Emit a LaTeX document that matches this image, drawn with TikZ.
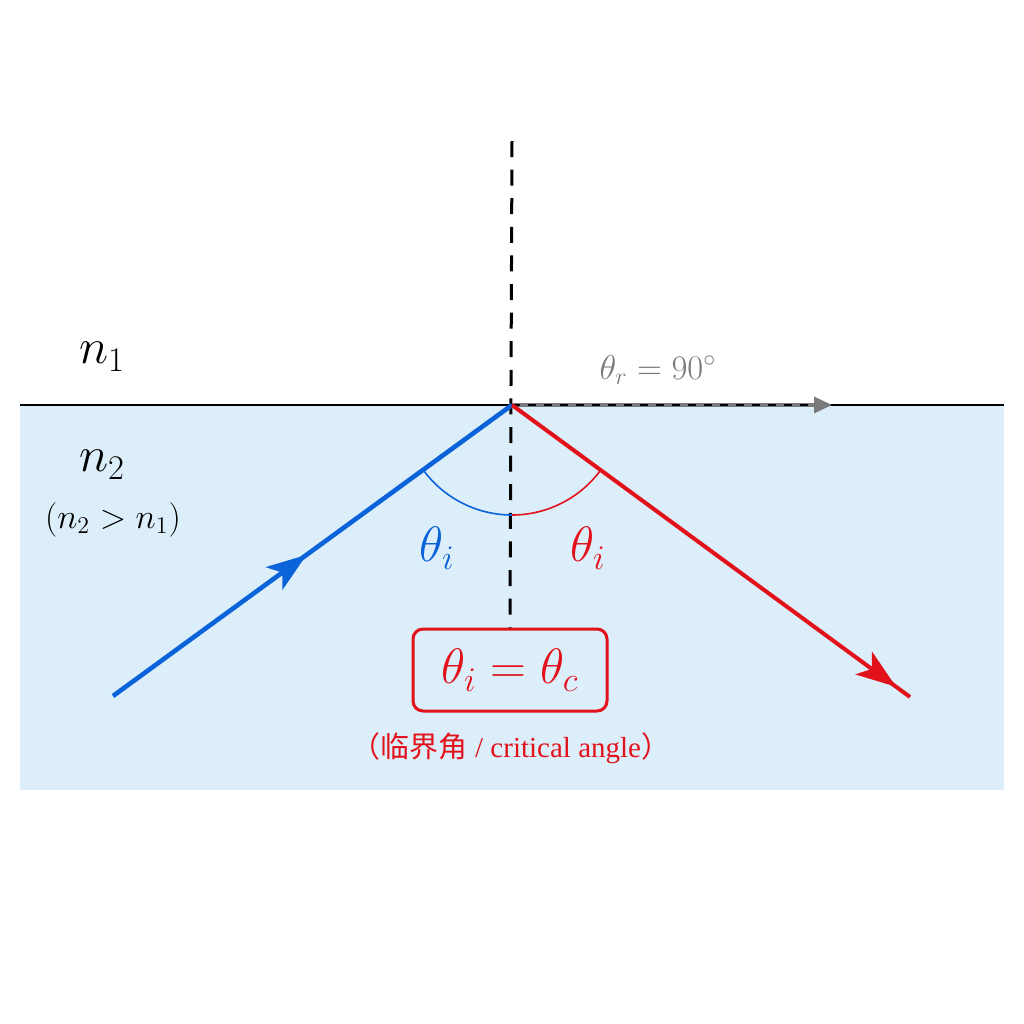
\documentclass[tikz,border=0pt]{standalone}
\usepackage{fontspec}
\setmainfont{Liberation Serif}
\newfontfamily\cjk{Noto Sans CJK SC}
\usetikzlibrary{arrows.meta,decorations.markings}
\definecolor{water}{HTML}{DDEEFB}
\definecolor{rayblue}{HTML}{0B63D9}
\definecolor{rayred}{HTML}{E2121B}
\definecolor{raygray}{HTML}{7A7A7A}
\tikzset{
  bigtip/.tip={Stealth[length=20pt,width=14pt,inset=5pt]},
  anglearc/.style={line width=0.8pt},
  lbl/.style={inner sep=0pt},
}
\begin{document}
\begin{tikzpicture}[x=0.5pt,y=-0.5pt]
\useasboundingbox (0,0) rectangle (1024,1024);
\fill[white] (0,0) rectangle (1024,1024);
\fill[water] (20,405) rectangle (1004,790);
% points
\coordinate (L) at (20,405);
\coordinate (R) at (1004,405);
\coordinate (O) at (512,405);
\coordinate (Top) at (512,141);
\coordinate (A) at (113,696);
\coordinate (B) at (910,697);
\coordinate (G) at (832,405);
\coordinate (Gb) at (815,405);
% box
\node[draw=rayred, line width=1.5pt, rounded corners=5pt, fill=water,
      minimum width=97pt, minimum height=41pt, inner sep=0pt, text=rayred]
      (box) at (510,670) {\fontsize{27}{30}\selectfont$\theta_i=\theta_c$};
% interface
\draw[line width=1pt] (L) -- (R);
% normal
\draw[line width=1.5pt, dash pattern=on 8pt off 6.3pt] (Top) -- (box.north);
% grazing refracted
\draw[raygray, line width=1.8pt, -{Triangle[length=9pt,width=8pt]}] (O) -- (G);
\draw[black, line width=0.9pt, dash pattern=on 4pt off 4pt] (O) -- (Gb);
% incident
\draw[rayblue, line width=2.3pt, postaction={decorate},
      decoration={markings, mark=at position 0.485 with {\arrow{bigtip}}}] (A) -- (O);
% reflected
\draw[rayred, line width=2pt, postaction={decorate},
      decoration={markings, mark=at position 0.965 with {\arrow{bigtip}}}] (O) -- (B);
% arcs
\draw[rayblue, anglearc] (O) ++(143.9:110) arc[start angle=143.9, end angle=90, radius=110];
\draw[rayred, anglearc] (O) ++(90:110) arc[start angle=90, end angle=36.1, radius=110];
% labels
\node[lbl, text=rayblue] (ti1) at (437,548) {\fontsize{25}{30}\selectfont$\theta_i$};
\node[lbl, text=rayred] (ti2) at (588,548) {\fontsize{25}{30}\selectfont$\theta_i$};
\node[lbl, text=raygray] (tr) at (658,370) {\fontsize{18.5}{21}\selectfont$\theta_r=90^\circ$};
\node[lbl] (n1) at (102,357) {\fontsize{25}{30}\selectfont$n_1$};
\node[lbl] (n2) at (102,465) {\fontsize{25}{30}\selectfont$n_2$};
\node[lbl] (cmp) at (113,520) {\fontsize{17}{20}\selectfont$(n_2>n_1)$};
\node[lbl, text=rayred] (cap) at (511,748) {\fontsize{14.5}{17}\selectfont{\cjk （临界角} / critical angle{\cjk ）}};
\end{tikzpicture}
\end{document}
